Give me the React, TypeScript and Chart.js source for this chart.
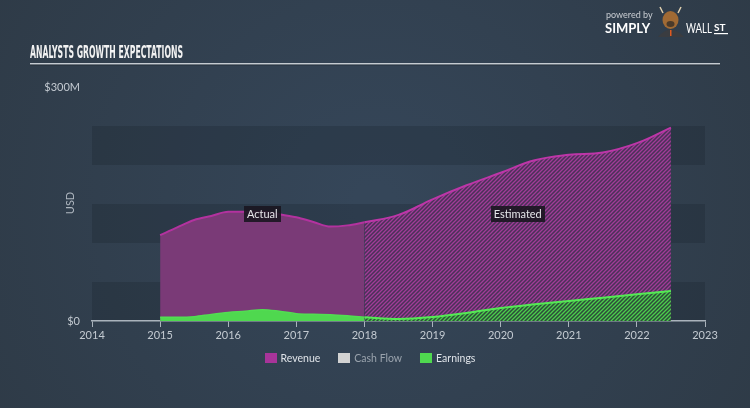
import React, { useEffect, useRef } from "react";
import { Chart, registerables } from "chart.js";

Chart.register(...registerables);

// ---- data (values in $M, x in years) ----
const revenueActualYears = [2015, 2015.25, 2015.5, 2015.75, 2016, 2016.25, 2016.5, 2016.75, 2017, 2017.25, 2017.5, 2017.75, 2018];
const revenueActual = [110, 120, 129.5, 134.6, 140, 140, 140, 137, 133, 127, 121, 122.6, 126.5];
const revenueEstYears = [2018, 2018.5, 2019, 2019.5, 2020, 2020.5, 2021, 2021.5, 2022, 2022.5];
const revenueEst = [126.5, 136, 156, 174, 190, 206, 213, 216, 228, 248];

const earningsActualYears = [2015, 2015.25, 2015.5, 2015.75, 2016, 2016.25, 2016.5, 2016.75, 2017, 2017.25, 2017.5, 2017.75, 2018];
const earningsActual = [4.7, 4.7, 5.5, 8.5, 11, 12.5, 14.5, 12.5, 9.4, 8.5, 8, 6.6, 4.7];
const earningsEstYears = [2018, 2018.5, 2019, 2019.5, 2020, 2020.5, 2021, 2021.5, 2022, 2022.5];
const earningsEst = [4.7, 2.6, 5.1, 10.3, 16.7, 21.4, 25.6, 29.9, 34.2, 38.5];

const xMin = 2014;
const xMax = 2023;
const yMin = 0;
const yMax = 300;
const yStep = 50;
const yTickLabels: Record<number, string> = { 0: "$0", 300: "$300M" };

const legendLabels = ["Revenue", "Cash Flow", "Earnings"];
const legendColors = ["#a8349a", "#d2d2d2", "#4fd84f"];
const legendTextColors = ["#dfe3e8", "#9aa3ad", "#dfe3e8"];

const phaseLabels = ["Actual", "Estimated"];
const phaseYears = [2016.5, 2020.25];
const phaseValue = 137;

const titleText = "ANALYSTS GROWTH EXPECTATIONS";
const FONT = "Lato, 'Open Sans', sans-serif";

function makePattern(bg: string, line: string): CanvasPattern | string {
  const c = document.createElement("canvas");
  c.width = 4;
  c.height = 4;
  const g = c.getContext("2d");
  if (!g) return bg;
  g.fillStyle = bg;
  g.fillRect(0, 0, 4, 4);
  g.strokeStyle = line;
  g.lineWidth = 1.3;
  g.beginPath();
  g.moveTo(0, 4);
  g.lineTo(4, 0);
  g.moveTo(-1, 1);
  g.lineTo(1, -1);
  g.moveTo(3, 5);
  g.lineTo(5, 3);
  g.stroke();
  const p = g.createPattern(c, "repeat");
  return p || bg;
}

function pts(xs: number[], ys: number[]) {
  return xs.map((x, i) => ({ x, y: ys[i] }));
}

const decor = {
  id: "decor",
  beforeDraw(chart: any) {
    const { ctx, width, height, chartArea: a, scales } = chart;
    const y = scales.y;
    ctx.save();
    const grd = ctx.createRadialGradient(width / 2, height / 2, 20, width / 2, height / 2, width * 0.62);
    grd.addColorStop(0, "#354659");
    grd.addColorStop(1, "#2e3a46");
    ctx.fillStyle = grd;
    ctx.fillRect(0, 0, width, height);
    // bands
    ctx.fillStyle = "rgba(20,28,38,0.22)";
    for (let v = yMin, i = 0; v < yMax; v += yStep, i++) {
      if (i % 2 === 0) {
        const t = y.getPixelForValue(v + yStep);
        const b = y.getPixelForValue(v);
        ctx.fillRect(a.left, t, a.right - a.left, b - t);
      }
    }
    ctx.restore();
  },
  afterDatasetsDraw(chart: any) {
    const { ctx, scales } = chart;
    ctx.save();
    ctx.font = `11px ${FONT}`;
    ctx.textAlign = "center";
    ctx.textBaseline = "middle";
    phaseLabels.forEach((lab, i) => {
      const cx = scales.x.getPixelForValue(phaseYears[i]);
      const cy = scales.y.getPixelForValue(phaseValue);
      const w = ctx.measureText(lab).width + 6;
      ctx.fillStyle = "rgba(26,22,32,0.9)";
      ctx.fillRect(Math.round(cx - w / 2), Math.round(cy - 8), Math.round(w), 16);
      ctx.fillStyle = "#e6e6ea";
      ctx.fillText(lab, cx, cy + 0.5);
    });
    ctx.restore();
  },
  afterDraw(chart: any) {
    const { ctx } = chart;
    ctx.save();
    // title
    ctx.font = `bold 18px 'DejaVu Sans Condensed', 'DejaVu Sans', sans-serif`;
    ctx.textBaseline = "alphabetic";
    ctx.textAlign = "left";
    const tw = ctx.measureText(titleText).width;
    ctx.save();
    ctx.translate(30, 58);
    ctx.scale(153 / tw, 1);
    ctx.fillStyle = "#f2f2f2";
    ctx.fillText(titleText, 0, 0);
    ctx.restore();
    // underline
    ctx.fillStyle = "#c5cbd1";
    ctx.fillRect(30, 63, 690, 1.5);
    ctx.fillStyle = "rgba(0,0,0,0.25)";
    ctx.fillRect(30, 64.5, 690, 1);

    // logo
    ctx.fillStyle = "#c9cdd2";
    ctx.font = `9px ${FONT}`;
    ctx.fillText("powered by", 606, 18);
    ctx.fillStyle = "#ffffff";
    ctx.font = `bold 13px ${FONT}`;
    ctx.fillText("SIMPLY", 605, 33);
    // mascot
    ctx.fillStyle = "#3a3c40";
    ctx.beginPath();
    ctx.moveTo(658, 37);
    ctx.quadraticCurveTo(670.5, 22, 684, 37);
    ctx.fill();
    ctx.fillStyle = "#a06a34";
    ctx.beginPath();
    ctx.ellipse(670.5, 20, 8, 9, 0, 0, Math.PI * 2);
    ctx.fill();
    ctx.fillStyle = "#4a3a2a";
    ctx.beginPath();
    ctx.ellipse(670.5, 24, 4, 3, 0, 0, Math.PI * 2);
    ctx.fill();
    ctx.strokeStyle = "#e0d0b0";
    ctx.lineWidth = 1.5;
    ctx.beginPath();
    ctx.moveTo(663, 13);
    ctx.lineTo(660, 7);
    ctx.moveTo(678, 13);
    ctx.lineTo(681, 7);
    ctx.stroke();
    ctx.fillStyle = "#e05a20";
    ctx.fillRect(670, 30, 1.5, 6);
    ctx.fillStyle = "#ffffff";
    ctx.font = `13px ${FONT}`;
    const wallW = ctx.measureText("WALL").width;
    ctx.save();
    ctx.translate(686, 33);
    ctx.scale(26 / wallW, 1);
    ctx.fillText("WALL", 0, 0);
    ctx.restore();
    ctx.font = `bold 10px ${FONT}`;
    ctx.fillText("ST", 714, 31);
    ctx.fillRect(714, 33, 14, 1.2);

    // USD axis title
    ctx.save();
    ctx.translate(70, 203);
    ctx.rotate(-Math.PI / 2);
    ctx.textAlign = "center";
    ctx.textBaseline = "middle";
    ctx.fillStyle = "#aeb6bf";
    ctx.font = `11px ${FONT}`;
    ctx.fillText("USD", 0, 0);
    ctx.restore();

    // legend
    ctx.font = `10.5px ${FONT}`;
    ctx.textBaseline = "middle";
    ctx.textAlign = "left";
    const boxW = 12, boxH = 9, gap = 4, sep = 18;
    const widths = legendLabels.map((l) => boxW + gap + ctx.measureText(l).width);
    const total = widths.reduce((s, w) => s + w, 0) + sep * (legendLabels.length - 1);
    let lx = 370 - total / 2;
    const ly = 358;
    legendLabels.forEach((l, i) => {
      ctx.fillStyle = legendColors[i];
      ctx.fillRect(Math.round(lx), ly - 5, boxW, boxH + 1);
      ctx.fillStyle = legendTextColors[i];
      ctx.fillText(l, lx + boxW + gap, ly + 0.5);
      lx += widths[i] + sep;
    });
    ctx.restore();
  },
};

export default function App() {
  const ref = useRef<HTMLCanvasElement | null>(null);
  useEffect(() => {
    if (!ref.current) return;
    const revPattern = makePattern("#4a3158", "#a13c98");
    const earnPattern = makePattern("#2d4c3a", "#4ccf4c");
    const chart = new Chart(ref.current, {
      type: "line",
      data: {
        datasets: [
          {
            label: "Earnings",
            data: pts(earningsActualYears, earningsActual),
            borderColor: "#52dd52",
            backgroundColor: "#4fd84f",
            borderWidth: 1.5,
            fill: "origin",
            pointRadius: 0,
            cubicInterpolationMode: "monotone",
            order: 0,
          },
          {
            label: "Earnings est",
            data: pts(earningsEstYears, earningsEst),
            borderColor: "#55ea55",
            backgroundColor: earnPattern as any,
            borderWidth: 2,
            fill: "origin",
            pointRadius: 0,
            cubicInterpolationMode: "monotone",
            order: 0,
          },
          {
            label: "Cash Flow",
            data: [],
            borderColor: "#d2d2d2",
            backgroundColor: "#d2d2d2",
            order: 1,
          },
          {
            label: "Revenue",
            data: pts(revenueActualYears, revenueActual),
            borderColor: "#b3329f",
            backgroundColor: "#7a3a77",
            borderWidth: 2,
            fill: "origin",
            pointRadius: 0,
            cubicInterpolationMode: "monotone",
            order: 2,
          },
          {
            label: "Revenue est",
            data: pts(revenueEstYears, revenueEst),
            borderColor: "#bd36a8",
            backgroundColor: revPattern as any,
            borderWidth: 2,
            fill: "origin",
            pointRadius: 0,
            tension: 0.4,
            order: 2,
          },
        ],
      },
      options: {
        animation: false,
        responsive: false,
        maintainAspectRatio: false,
        layout: { padding: { top: 87, right: 45, bottom: 0, left: 0 } },
        plugins: { legend: { display: false }, tooltip: { enabled: false }, title: { display: false } },
        scales: {
          x: {
            type: "linear",
            min: xMin,
            max: xMax,
            afterFit: (s: any) => {
              s.height = 87;
            },
            ticks: {
              stepSize: 1,
              autoSkip: false,
              maxRotation: 0,
              padding: 2,
              color: "#c3cad1",
              font: { family: FONT, size: 11 },
              callback: (v: any) => String(v),
            },
            grid: { display: true, drawOnChartArea: false, drawTicks: true, tickLength: 6, color: "#aab3bc", lineWidth: 1 },
            border: { display: true, color: "#aab3bc", width: 1.5 },
          },
          y: {
            type: "linear",
            min: yMin,
            max: yMax,
            afterFit: (s: any) => {
              s.width = 92;
            },
            ticks: {
              stepSize: yStep,
              autoSkip: false,
              padding: 12,
              color: "#c3cad1",
              font: { family: FONT, size: 11 },
              callback: (v: any) => yTickLabels[v as number] ?? "",
            },
            grid: { display: false, drawTicks: false },
            border: { display: false },
          },
        },
      },
      plugins: [decor],
    });
    return () => chart.destroy();
  }, []);
  return (
    <div style={{ position: "fixed", left: 0, top: 0, width: 750, height: 408 }}>
      <canvas ref={ref} width={750} height={408} style={{ width: 750, height: 408, display: "block" }} />
    </div>
  );
}
